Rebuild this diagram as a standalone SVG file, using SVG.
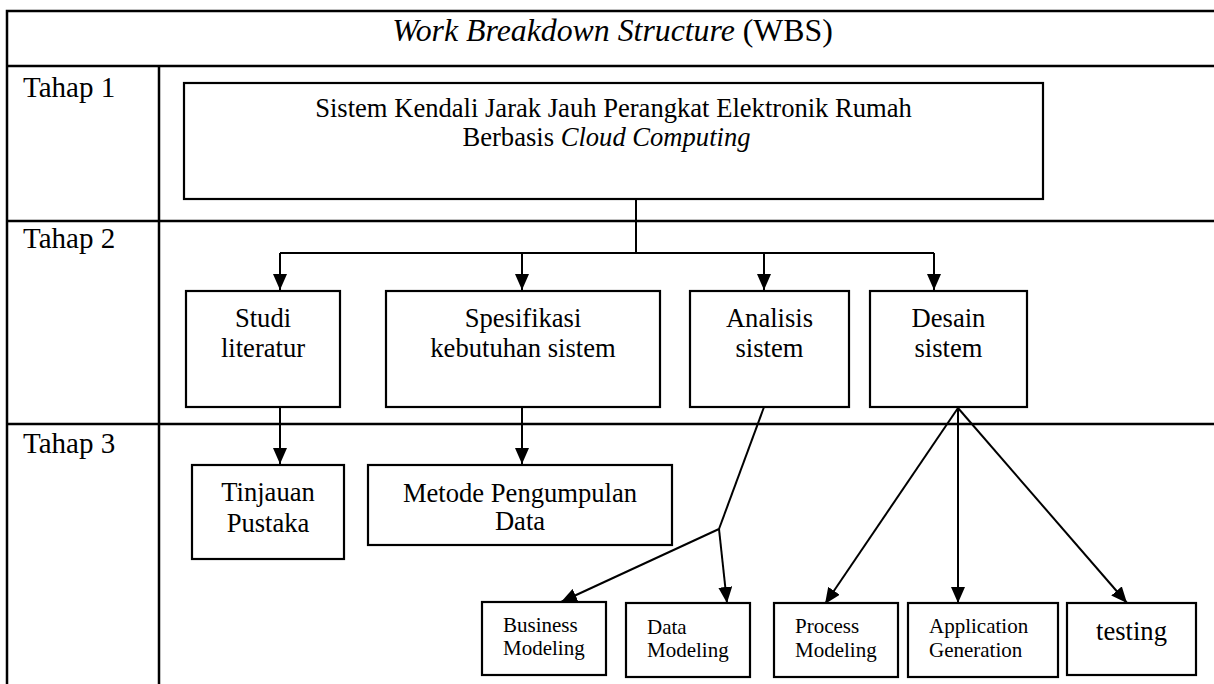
<svg xmlns="http://www.w3.org/2000/svg" width="1214" height="684" viewBox="0 0 1214 684" font-family="'Liberation Serif', 'DejaVu Serif', serif">
  <defs>
    <marker id="arrow" markerUnits="userSpaceOnUse" markerWidth="16" markerHeight="14" refX="16" refY="7" orient="auto">
      <path d="M0,0 L16,7 L0,14 z" fill="#000"/>
    </marker>
    <style>
      text { font-family: "Liberation Serif", "DejaVu Serif", serif; fill: #000; }
      .grid { stroke: #000; stroke-width: 2.5; fill: none; }
      .box { fill: #fff; stroke: #000; stroke-width: 2.2; }
      .conn { stroke: #000; stroke-width: 2; fill: none; }
      .arr { marker-end: url(#arrow); }
      .title { font-size: 31.8px; }
      .stage { font-size: 29px; }
      .lbl { font-size: 26.6px; text-anchor: middle; }
      .sm { font-size: 21px; }
    </style>
  </defs>
  <rect width="1214" height="684" fill="#fff"/>

  <!-- table grid -->
  <g id="table">
    <path class="grid" d="M7,684 V11 H1214 M7,66 H1214 M7,221 H1214 M7,424 H1214 M159,66 V684"/>
    <text class="title" x="612.5" y="41" text-anchor="middle"><tspan font-style="italic">Work Breakdown Structure</tspan> (WBS)</text>
    <text class="stage" x="23" y="97">Tahap 1</text>
    <text class="stage" x="23" y="248">Tahap 2</text>
    <text class="stage" x="23" y="453">Tahap 3</text>
  </g>

  <!-- connectors -->
  <g id="connectors">
    <path class="conn" d="M636,199 V253 M280,253 H934"/>
    <line class="conn arr" x1="280" y1="253" x2="280" y2="290"/>
    <line class="conn arr" x1="522" y1="253" x2="522" y2="290"/>
    <line class="conn arr" x1="764" y1="253" x2="764" y2="290"/>
    <line class="conn arr" x1="934" y1="253" x2="934" y2="290"/>
    <line class="conn arr" x1="280" y1="407" x2="280" y2="464"/>
    <line class="conn arr" x1="522" y1="407" x2="522" y2="464"/>
    <line class="conn" x1="764" y1="407" x2="719" y2="529"/>
    <line class="conn arr" x1="719" y1="529" x2="561" y2="602"/>
    <line class="conn arr" x1="719" y1="529" x2="727" y2="603"/>
    <line class="conn arr" x1="958" y1="408" x2="825" y2="604"/>
    <line class="conn arr" x1="958" y1="408" x2="958" y2="603"/>
    <line class="conn arr" x1="958" y1="408" x2="1127" y2="603"/>
  </g>

  <!-- stage 1 -->
  <g id="n-root">
    <rect class="box" x="184" y="83" width="859" height="116"/>
    <text class="lbl" x="613.5" y="117">Sistem Kendali Jarak Jauh Perangkat Elektronik Rumah</text>
    <text class="lbl" x="606.5" y="146">Berbasis <tspan font-style="italic">Cloud Computing</tspan></text>
  </g>

  <!-- stage 2 -->
  <g id="n-studi">
    <rect class="box" x="186" y="291" width="154" height="116"/>
    <text class="lbl" x="263" y="327">Studi</text>
    <text class="lbl" x="263" y="357">literatur</text>
  </g>
  <g id="n-spesifikasi">
    <rect class="box" x="386" y="291" width="274" height="116"/>
    <text class="lbl" x="523" y="327">Spesifikasi</text>
    <text class="lbl" x="523" y="357">kebutuhan sistem</text>
  </g>
  <g id="n-analisis">
    <rect class="box" x="690" y="291" width="159" height="116"/>
    <text class="lbl" x="769.5" y="327">Analisis</text>
    <text class="lbl" x="769.5" y="357">sistem</text>
  </g>
  <g id="n-desain">
    <rect class="box" x="870" y="291" width="157" height="116"/>
    <text class="lbl" x="948.5" y="327">Desain</text>
    <text class="lbl" x="948.5" y="357">sistem</text>
  </g>

  <!-- stage 3 -->
  <g id="n-tinjauan">
    <rect class="box" x="192" y="465" width="152" height="94"/>
    <text class="lbl" x="268" y="501">Tinjauan</text>
    <text class="lbl" x="268" y="532">Pustaka</text>
  </g>
  <g id="n-metode">
    <rect class="box" x="368" y="465" width="304" height="80"/>
    <text class="lbl" x="520" y="502">Metode Pengumpulan</text>
    <text class="lbl" x="520" y="530">Data</text>
  </g>
  <g id="n-business">
    <rect class="box" x="482" y="602" width="124" height="73"/>
    <text class="sm" x="503" y="632">Business</text>
    <text class="sm" x="503" y="655">Modeling</text>
  </g>
  <g id="n-data">
    <rect class="box" x="626" y="603" width="124" height="74"/>
    <text class="sm" x="647" y="634">Data</text>
    <text class="sm" x="647" y="657">Modeling</text>
  </g>
  <g id="n-process">
    <rect class="box" x="774" y="603" width="124" height="74"/>
    <text class="sm" x="795" y="633">Process</text>
    <text class="sm" x="795" y="657">Modeling</text>
  </g>
  <g id="n-application">
    <rect class="box" x="908" y="603" width="150" height="74"/>
    <text class="sm" x="929" y="633">Application</text>
    <text class="sm" x="929" y="657">Generation</text>
  </g>
  <g id="n-testing">
    <rect class="box" x="1067" y="603" width="129" height="72"/>
    <text class="lbl" x="1131.5" y="640">testing</text>
  </g>
</svg>
